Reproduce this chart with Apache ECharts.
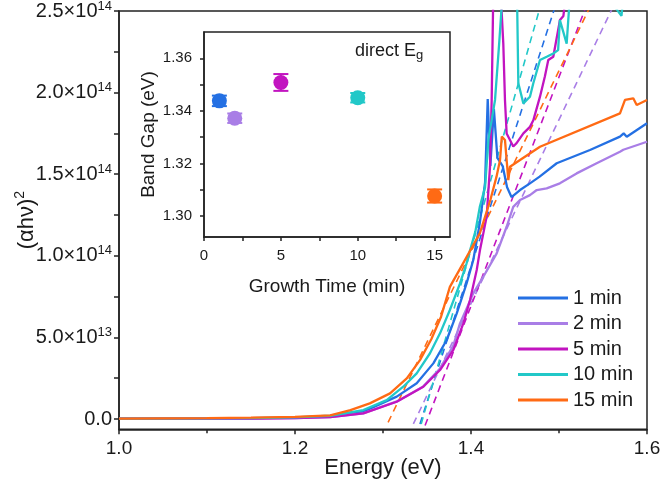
<!DOCTYPE html>
<html><head><meta charset="utf-8">
<script src="https://cdn.jsdelivr.net/npm/echarts@6/dist/echarts.min.js"></script>
<style>html,body{margin:0;padding:0;background:#fff}#c{width:661px;height:498px}</style>
</head><body><div id="c"></div>
<script>
// ---------- data ----------
const seriesNames = ['1 min', '2 min', '5 min', '10 min', '15 min'];
const colors = ['#2470e3', '#a97ee6', '#c214c0', '#22c8c8', '#ff6a14'];

// Energy (eV) / (alpha h nu)^2
const energy1 = [1.00,1.10,1.15,1.20,1.24,1.2776,1.3156,1.3383,1.3572,1.3724,1.3838,1.395,1.4026,1.410,1.416,1.419,1.422,1.426,1.430,1.436,1.441,1.446,1.4557,1.467,1.478,1.4974,1.5352,1.5693,1.5735,1.577,1.60];
const value1  = [0.2e12,0.3e12,0.5e12,0.9e12,1.8e12,4.5e12,1.37e13,2.19e13,3.41e13,4.84e13,6.47e13,8.31e13,9.74e13,1.2e14,1.45e14,1.96e14,1.55e14,1.9e14,1.6e14,1.55e14,1.42e14,1.36e14,1.403e14,1.444e14,1.485e14,1.567e14,1.648e14,1.73e14,1.75e14,1.73e14,1.812e14];

const energy2 = [1.00,1.10,1.15,1.20,1.24,1.2776,1.3156,1.3458,1.3648,1.3799,1.3875,1.4026,1.414,1.4292,1.4405,1.448,1.4557,1.467,1.4747,1.486,1.501,1.52,1.5428,1.5693,1.5731,1.60];
const value2  = [0.2e12,0.2e12,0.3e12,0.6e12,1.2e12,3.5e12,1.08e13,2.0e13,3.1e13,4.5e13,5.86e13,7.7e13,8.72e13,1.015e14,1.178e14,1.3e14,1.342e14,1.372e14,1.403e14,1.413e14,1.444e14,1.505e14,1.567e14,1.638e14,1.65e14,1.699e14];

const energy5 = [1.00,1.10,1.15,1.20,1.24,1.2776,1.3156,1.3458,1.3648,1.3799,1.3913,1.3989,1.4065,1.4102,1.4178,1.4216,1.4235,1.4253,1.430,1.4367,1.4386,1.4405,1.4443,1.448,1.4518,1.4595,1.467,1.4708,1.4784,1.484,1.4878,1.4935,1.5011,1.505,1.51,1.60];
const value5  = [0.2e12,0.2e12,0.3e12,0.6e12,1.2e12,3.5e12,1.06e13,1.98e13,3.0e13,4.23e13,5.86e13,7.29e13,9.13e13,1.035e14,1.24e14,1.546e14,1.955e14,2.6e14,3.0e14,2.3e14,1.955e14,1.75e14,1.71e14,1.67e14,1.69e14,1.75e14,1.79e14,1.83e14,1.975e14,2.1e14,2.2e14,2.22e14,2.445e14,2.47e14,2.7e14,2.9e14];

const energy10 = [1.00,1.10,1.15,1.20,1.24,1.2776,1.3042,1.323,1.3383,1.3534,1.3648,1.376,1.3875,1.395,1.399,1.405,1.410,1.416,1.4197,1.4273,1.432,1.437,1.445,1.452,1.4538,1.4595,1.467,1.4708,1.4784,1.486,1.4935,1.499,1.501,1.5087,1.5125,1.54,1.571,1.575,1.60];
const value10  = [0.3e12,0.4e12,0.6e12,1.0e12,2.0e12,5.5e12,1.16e13,1.98e13,2.8e13,4.03e13,5.25e13,6.68e13,8.31e13,9.54e13,1.035e14,1.15e14,1.3e14,1.42e14,1.71e14,1.955e14,2.3e14,2.7e14,3.0e14,2.7e14,2.057e14,1.934e14,1.975e14,2.057e14,2.2e14,2.22e14,2.24e14,2.26e14,2.445e14,2.3e14,2.6e14,2.7e14,2.47e14,2.7e14,2.8e14];

const energy15 = [1.00,1.10,1.15,1.20,1.24,1.263,1.285,1.308,1.327,1.342,1.355,1.366,1.376,1.391,1.410,1.422,1.429,1.433,1.435,1.4386,1.4424,1.4443,1.4557,1.4784,1.5693,1.575,1.5844,1.5883,1.60];
const value15  = [0.3e12,0.5e12,0.8e12,1.3e12,2.2e12,5.5e12,9.6e12,1.57e13,2.49e13,3.61e13,4.9e13,6.27e13,8.1e13,9.54e13,1.138e14,1.342e14,1.485e14,1.587e14,1.73e14,1.71e14,1.464e14,1.546e14,1.587e14,1.668e14,1.873e14,1.955e14,1.965e14,1.924e14,1.955e14];

// linear (Tauc) fits: start and end points
const fitStartE = [1.342, 1.3345, 1.3478, 1.3434, 1.3058];
const fitStartV = [-3e12, -3e12, -4e12, -3e12, -2e12];
const fitEndE   = [1.500, 1.568, 1.536, 1.4826, 1.542];
const fitEndV   = [2.6e14, 2.6e14, 2.6e14, 2.6e14, 2.6e14];

// inset: band gap vs growth time
const growthTime = [1, 2, 5, 10, 15];
const bandGap    = [1.3438, 1.3372, 1.3508, 1.3450, 1.3076];
const bandGapErr = [0.0020, 0.0018, 0.0032, 0.0018, 0.0025];

// tick labels
const yTickValues = [0, 5e13, 1e14, 1.5e14, 2e14, 2.5e14];
const yTickMant   = ['0.0', '5.0', '1.0', '1.5', '2.0', '2.5'];
const yTickExp    = ['', '13', '14', '14', '14', '14'];
const yMinorTicks = [0, 2.5e13, 5e13, 7.5e13, 1e14, 1.25e14, 1.5e14, 1.75e14, 2e14, 2.25e14, 2.5e14];
const insetXLabels = [0, 5, 10, 15];
const insetXTicks  = [0, 2.5, 5, 7.5, 10, 12.5, 15];
const insetYLabels = [1.30, 1.32, 1.34, 1.36];
const insetYTicks  = [1.30, 1.31, 1.32, 1.33, 1.34, 1.35, 1.36];

// ---------- chart ----------
const FONT = '"Liberation Sans", Arial, sans-serif';
const TXT = '#1a1a1a';
const energies = [energy1, energy2, energy5, energy10, energy15];
const values = [value1, value2, value5, value10, value15];

const series = [];
for (let i = 0; i < 5; i++) {
  series.push({
    name: 'fit ' + seriesNames[i], type: 'line', xAxisIndex: 0, yAxisIndex: 0,
    data: [[fitStartE[i], fitStartV[i]], [fitEndE[i], fitEndV[i]]],
    symbol: 'none', silent: true, clip: true,
    lineStyle: { color: colors[i], width: 1.6, type: [7, 5] }
  });
}
for (let i = 0; i < 5; i++) {
  series.push({
    name: seriesNames[i], type: 'line', xAxisIndex: 0, yAxisIndex: 0,
    data: energies[i].map((e, k) => [e, values[i][k]]),
    symbol: 'none', clip: true, color: colors[i],
    lineStyle: { color: colors[i], width: 2.3 }
  });
}
series.push({
  name: 'errbar', type: 'custom', xAxisIndex: 1, yAxisIndex: 1, z: 20,
  data: growthTime.map((t, i) => [t, bandGap[i] - bandGapErr[i], bandGap[i] + bandGapErr[i], i]),
  encode: { x: 0, y: [1, 2] },
  renderItem: function (params, api) {
    const x = api.value(0), lo = api.value(1), hi = api.value(2), i = api.value(3);
    const p1 = api.coord([x, lo]), p2 = api.coord([x, hi]);
    const hw = 7.5;
    const st = { stroke: colors[i], lineWidth: 2 };
    return { type: 'group', children: [
      { type: 'line', shape: { x1: p1[0], y1: p1[1], x2: p2[0], y2: p2[1] }, style: st },
      { type: 'line', shape: { x1: p1[0] - hw, y1: p1[1], x2: p1[0] + hw, y2: p1[1] }, style: st },
      { type: 'line', shape: { x1: p2[0] - hw, y1: p2[1], x2: p2[0] + hw, y2: p2[1] }, style: st }
    ]};
  }
});
series.push({
  name: 'gap', type: 'scatter', xAxisIndex: 1, yAxisIndex: 1, z: 21,
  symbolSize: 15,
  data: growthTime.map((t, i) => ({ value: [t, bandGap[i]], itemStyle: { color: colors[i], opacity: 1 } }))
});

const axisLineStyle = { color: '#222', width: 1.5 };

const option = {
  animation: false,
  backgroundColor: '#fff',
  textStyle: { fontFamily: FONT },
  grid: [
    { left: 119, top: 11, width: 528, height: 418.3, show: true, borderColor: '#222', borderWidth: 1.5, outerBoundsMode: 'none' },
    { left: 204, top: 32, width: 246, height: 205, show: true, borderColor: '#222', borderWidth: 1.5, backgroundColor: '#fff', outerBoundsMode: 'none' }
  ],
  xAxis: [
    {
      gridIndex: 0, type: 'value', min: 1.0, max: 1.6, interval: 0.2,
      axisLine: { show: true, onZero: false, lineStyle: axisLineStyle },
      axisTick: { show: true, length: 5, lineStyle: axisLineStyle },
      minorTick: { show: true, splitNumber: 2, length: 4, lineStyle: axisLineStyle },
      splitLine: { show: false },
      axisLabel: { fontSize: 19, color: TXT, margin: 10, fontFamily: FONT, formatter: v => v.toFixed(1) },
      name: 'Energy (eV)', nameLocation: 'middle', nameGap: 28, nameMoveOverlap: false,
      nameTextStyle: { fontSize: 22, color: TXT, fontFamily: FONT }
    },
    {
      gridIndex: 1, type: 'value', min: 0, max: 16,
      axisLine: { show: true, onZero: false, lineStyle: axisLineStyle },
      axisTick: { show: true, length: 4, lineStyle: axisLineStyle, customValues: insetXTicks },
      splitLine: { show: false },
      axisLabel: { fontSize: 15, color: TXT, margin: 11, fontFamily: FONT, customValues: insetXLabels },
      name: 'Growth Time (min)', nameLocation: 'middle', nameGap: 40,
      nameTextStyle: { fontSize: 19, color: TXT, fontFamily: FONT }
    }
  ],
  yAxis: [
    {
      gridIndex: 0, type: 'value', min: -6.3e12, max: 2.5e14,
      axisLine: { show: true, onZero: false, lineStyle: axisLineStyle },
      axisTick: { show: true, length: 5, lineStyle: axisLineStyle, customValues: yMinorTicks },
      splitLine: { show: false },
      axisLabel: {
        customValues: yTickValues, margin: 7, color: TXT, fontFamily: FONT,
        formatter: function (v) {
          const i = yTickValues.findIndex(t => Math.abs(t - v) < 1e9);
          if (i < 0) return '';
          return yTickExp[i] ? '{m|' + yTickMant[i] + '×10}{s|' + yTickExp[i] + '}' : '{m|' + yTickMant[i] + '}';
        },
        rich: {
          m: { fontSize: 20, color: TXT, fontFamily: FONT },
          s: { fontSize: 13, color: TXT, fontFamily: FONT, padding: [0, 0, 10, 0] }
        }
      },
      name: '{m|(αhν)}{s|2}', nameLocation: 'middle', nameGap: 78, nameRotate: 90, nameMoveOverlap: false,
      nameTextStyle: {
        rich: {
          m: { fontSize: 22, color: TXT, fontFamily: FONT },
          s: { fontSize: 14, color: TXT, fontFamily: FONT, padding: [0, 0, 14, 0] }
        }
      }
    },
    {
      gridIndex: 1, type: 'value', min: 1.292, max: 1.37,
      axisLine: { show: true, onZero: false, lineStyle: axisLineStyle },
      axisTick: { show: true, length: 4, lineStyle: axisLineStyle, customValues: insetYTicks },
      splitLine: { show: false },
      axisLabel: { fontSize: 15, color: TXT, margin: 12, fontFamily: FONT, customValues: insetYLabels, formatter: v => v.toFixed(2) },
      name: 'Band Gap (eV)', nameLocation: 'middle', nameGap: 46,
      nameTextStyle: { fontSize: 19, color: TXT, fontFamily: FONT }
    }
  ],
  legend: {
    data: seriesNames.map((n, i) => ({ name: n, icon: 'rect', itemStyle: { color: colors[i] } })),
    orient: 'vertical', left: 513, top: 283,
    itemWidth: 50, itemHeight: 3, itemGap: 5.5,
    textStyle: { fontSize: 20, color: TXT, fontFamily: FONT },
    selectedMode: false
  },
  graphic: [
    {
      type: 'text', left: 355, top: 42, z: 100,
      style: { rich: { a: { fontSize: 18, fill: TXT, fontFamily: FONT }, b: { fontSize: 13, fill: TXT, fontFamily: FONT, padding: [8, 0, 0, 0] } },
               text: '{a|direct E}{b|g}' }
    }
  ],
  series: series
};

const chart = echarts.init(document.getElementById('c'), null, { renderer: 'canvas' });
chart.setOption(option);
</script>
</body></html>
